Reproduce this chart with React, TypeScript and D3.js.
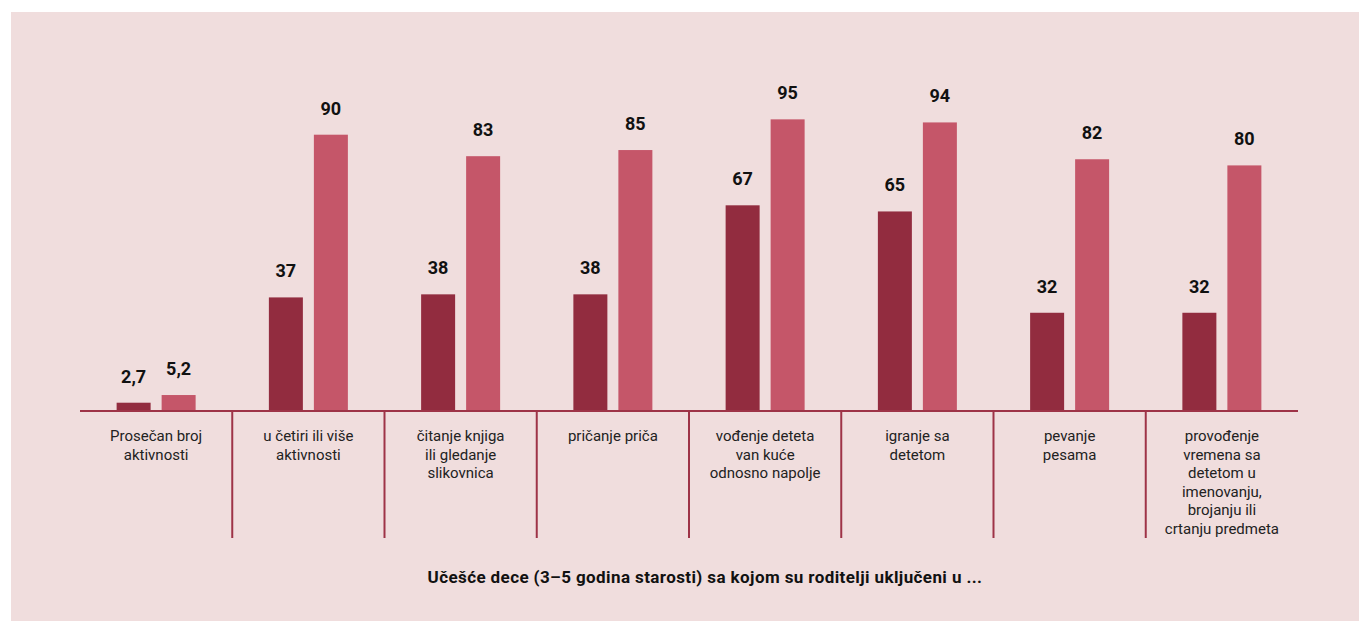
import React from "react";
import * as d3 from "d3";

const categories: string[][] = [
  ["Prosečan broj", "aktivnosti"],
  ["u četiri ili više", "aktivnosti"],
  ["čitanje knjiga", "ili gledanje", "slikovnica"],
  ["pričanje priča"],
  ["vođenje deteta", "van kuće", "odnosno napolje"],
  ["igranje sa", "detetom"],
  ["pevanje", "pesama"],
  ["provođenje", "vremena sa", "detetom u", "imenovanju,", "brojanju ili", "crtanju predmeta"],
];
const seriesA: number[] = [2.7, 37, 38, 38, 67, 65, 32, 32];
const seriesB: number[] = [5.2, 90, 83, 85, 95, 94, 82, 80];
const labelsA: string[] = ["2,7", "37", "38", "38", "67", "65", "32", "32"];
const labelsB: string[] = ["5,2", "90", "83", "85", "95", "94", "82", "80"];
const title = "Učešće dece (3–5 godina starosti) sa kojom su roditelji uključeni u ...";

const W = 1359;
const H = 621;
const colorA = "#922c3f";
const colorB = "#c55669";
const lineColor = "#9e3347";
const bg = "#f0dddd";

export default function App() {
  const x0 = 80;
  const x1 = 1298;
  const base = 411;
  const x = d3
    .scaleBand<number>()
    .domain(d3.range(categories.length))
    .range([x0, x1])
    .padding(0);
  const y = d3.scaleLinear().domain([0, 100]).range([base, base - 307]);
  const barW = 34;
  const off = 22.5;
  const font = "Roboto, 'Noto Sans', sans-serif";

  return (
    <svg
      width={W}
      height={H}
      style={{ position: "absolute", left: 0, top: 0, display: "block" }}
    >
      <rect x={0} y={0} width={W} height={H} fill="#ffffff" />
      <rect x={11} y={12} width={W - 11} height={H - 12} fill={bg} />
      {categories.map((cat, i) => {
        const cx = (x(i) as number) + x.bandwidth() / 2;
        const yA = y(seriesA[i]);
        const yB = y(seriesB[i]);
        return (
          <g key={i}>
            <rect x={cx - off - barW / 2} y={yA} width={barW} height={base - yA} fill={colorA} />
            <rect x={cx + off - barW / 2} y={yB} width={barW} height={base - yB} fill={colorB} />
            <text
              x={cx - off}
              y={yA - 20}
              textAnchor="middle"
              fontFamily={font}
              fontWeight={700}
              fontSize={18}
              fill="#111"
            >
              {labelsA[i]}
            </text>
            <text
              x={cx + off}
              y={yB - 20}
              textAnchor="middle"
              fontFamily={font}
              fontWeight={700}
              fontSize={18}
              fill="#111"
            >
              {labelsB[i]}
            </text>
            {cat.map((line, j) => (
              <text
                key={j}
                x={cx}
                y={441 + j * 18.6}
                textAnchor="middle"
                fontFamily={font}
                fontSize={15}
                fill="#222"
              >
                {line}
              </text>
            ))}
            {i > 0 && (
              <line
                x1={x(i) as number}
                x2={x(i) as number}
                y1={base}
                y2={538}
                stroke={lineColor}
                strokeWidth={2}
              />
            )}
          </g>
        );
      })}
      <line x1={x0} x2={x1} y1={base} y2={base} stroke={lineColor} strokeWidth={2} />
      <text
        x={705}
        y={583}
        textAnchor="middle"
        fontFamily={font}
        fontWeight={700}
        fontSize={17}
        letterSpacing={0.4}
        fill="#111"
      >
        {title}
      </text>
    </svg>
  );
}
